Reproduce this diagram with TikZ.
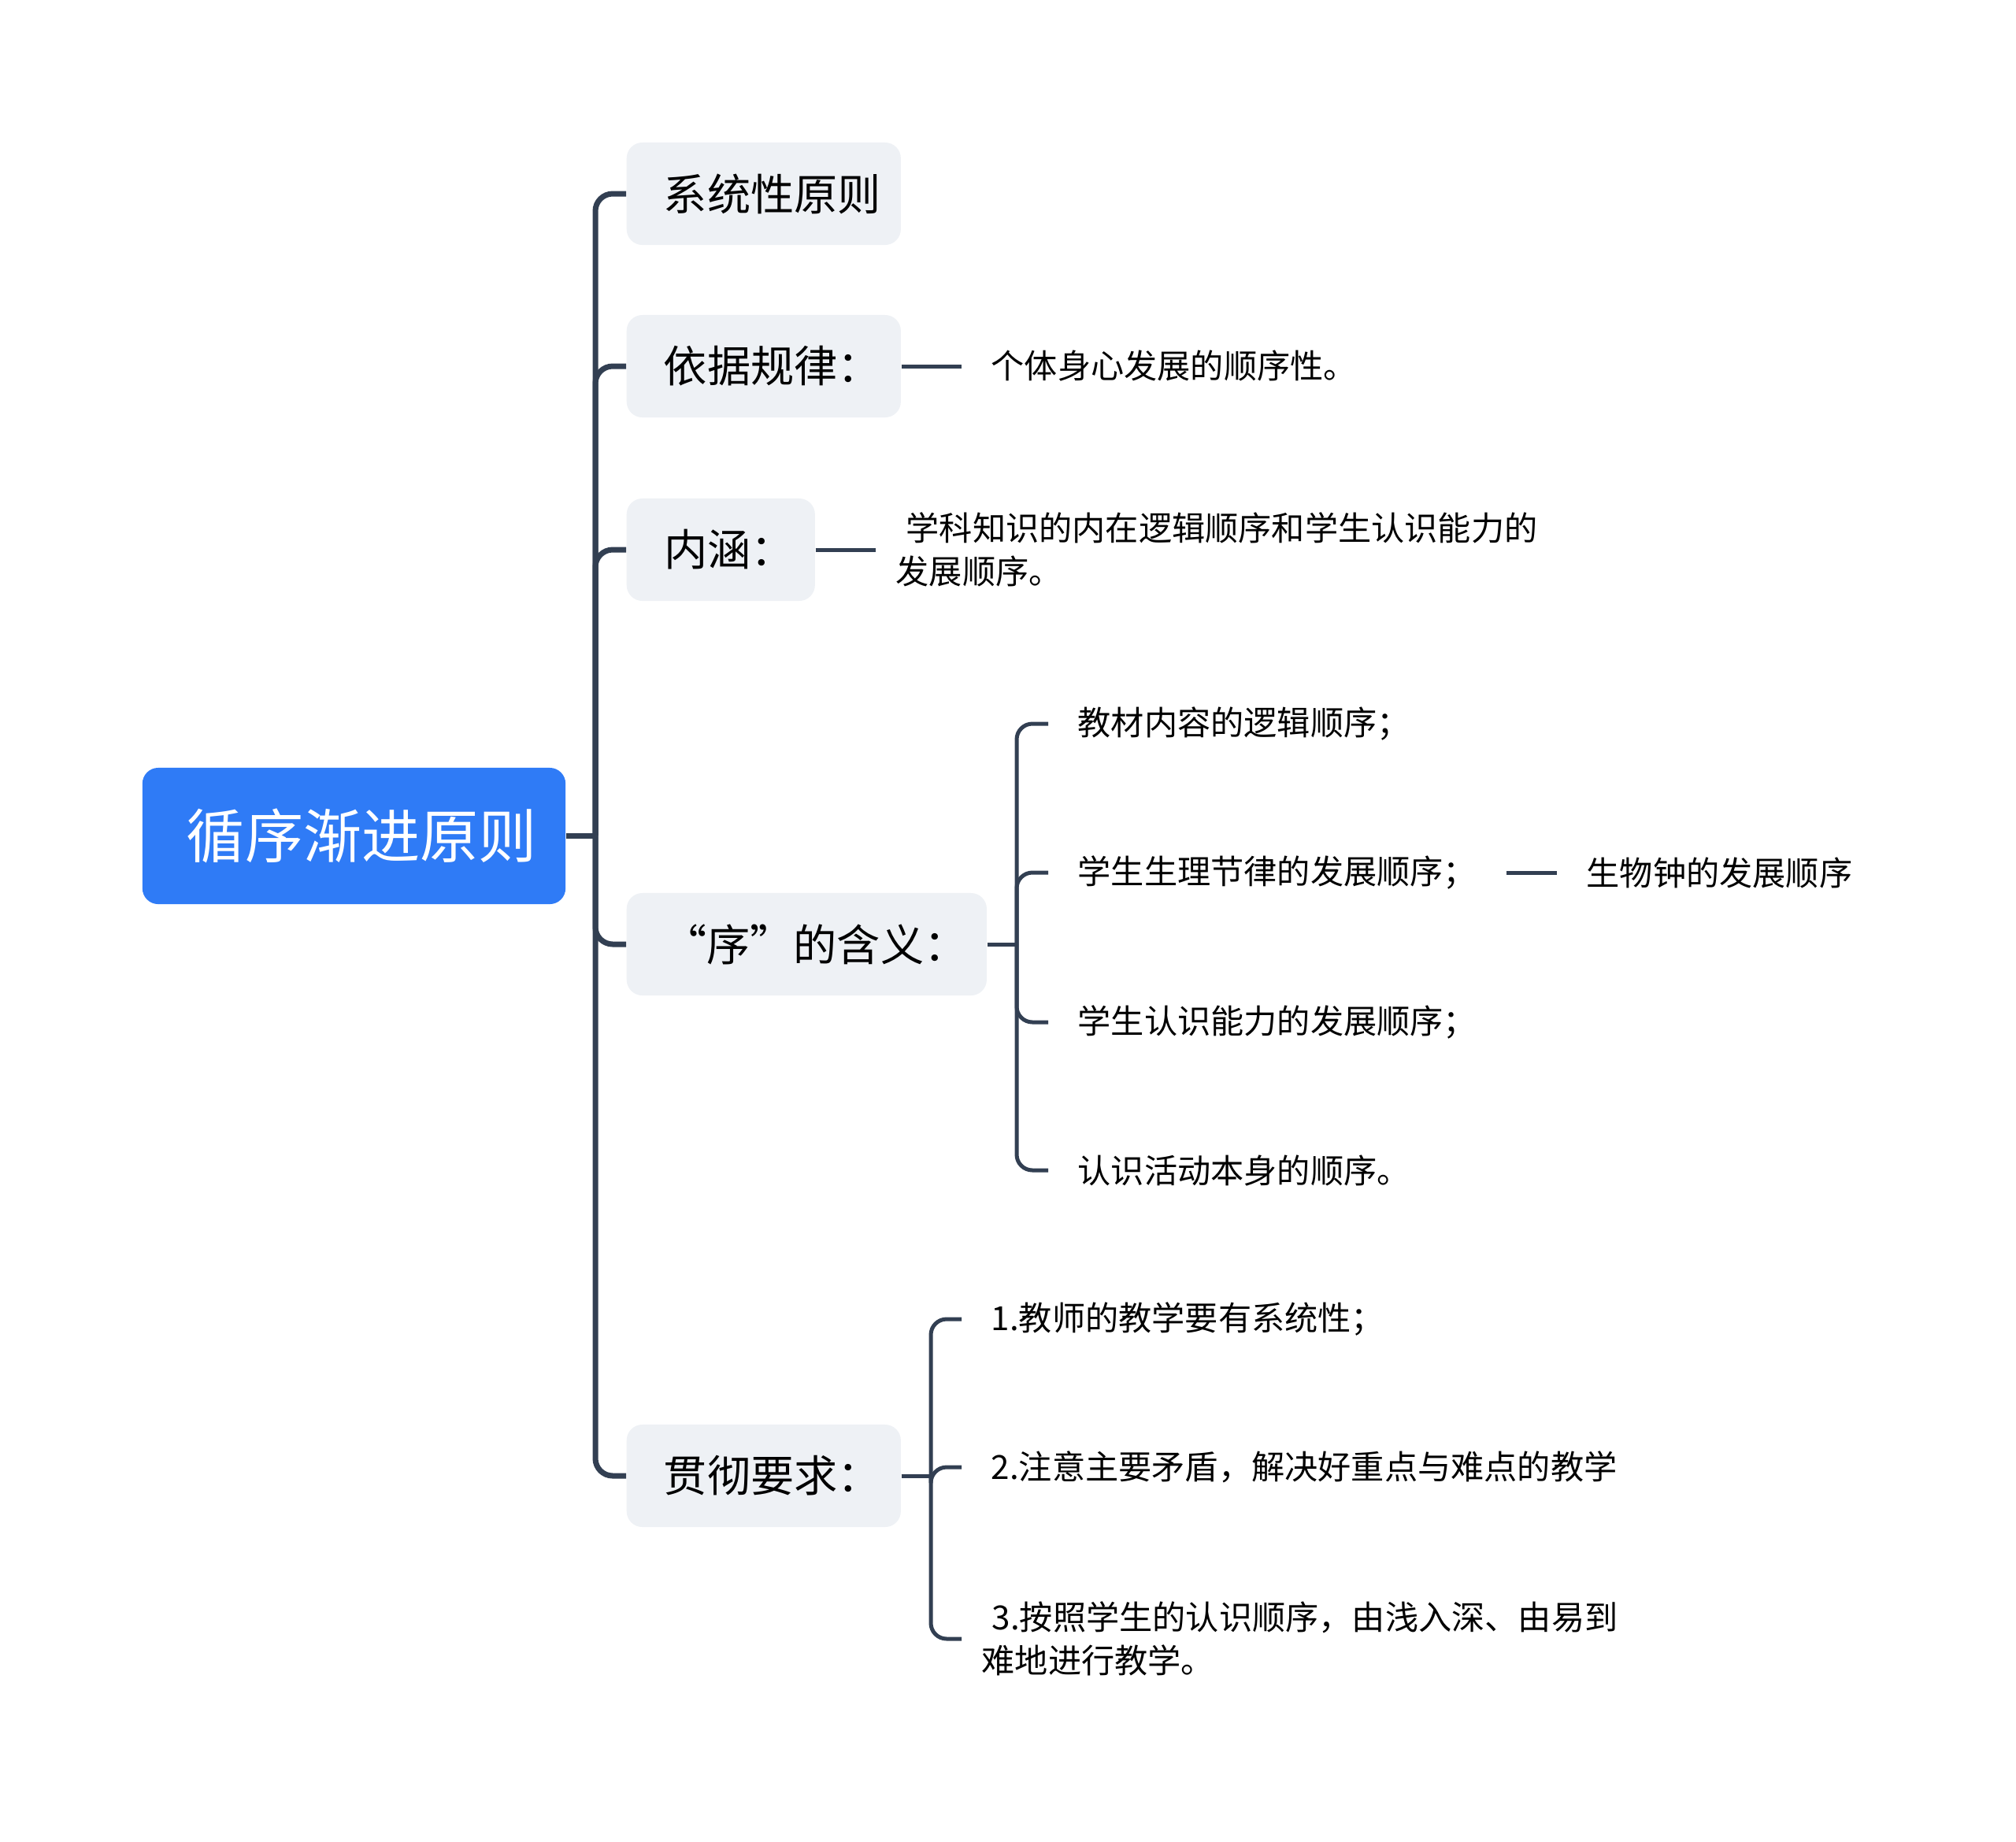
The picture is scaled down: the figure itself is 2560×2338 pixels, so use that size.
\documentclass[tikz,border=0pt]{standalone}
\usepackage{fontspec}
\newfontfamily\cjk{Noto Sans CJK SC}
\definecolor{rootblue}{HTML}{2F7BF6}
\definecolor{linedark}{HTML}{323F52}
\definecolor{boxgray}{HTML}{EEF1F5}
\tikzset{
  rootbox/.style={fill=rootblue, rounded corners=0.2cm, minimum width=5.37cm, minimum height=1.73cm,
    text=white, font=\cjk\fontsize{21.1}{24}\selectfont, execute at begin node={\hspace*{0.2cm}}},
  topicbox/.style={fill=boxgray, rounded corners=0.2cm, minimum height=1.3cm, anchor=west,
    font=\cjk\fontsize{15.7}{19}\selectfont, execute at begin node={\hspace*{0.22cm}}},
  leaf/.style={anchor=west, inner xsep=0.37cm, inner ysep=0pt, align=left,
    font=\cjk\fontsize{12}{15.8}\selectfont},
  leafwrap/.style={leaf, inner xsep=0.25cm},
  trunk/.style={draw=linedark, line width=0.07cm, rounded corners=0.22cm},
  twig/.style={draw=linedark, line width=0.05cm, rounded corners=0.2cm},
}
\def\lead{\hspace*{0.13cm}}

\begin{document}
\begin{tikzpicture}[x=0.01cm, y=-0.01cm]
	\useasboundingbox (0,0) rectangle (2560,2338);
	
	%%%%% root and main topics %%%%%
	\node[rootbox] (root) at (449.5,1061.5) {循序渐进原则};
	
	\node[topicbox, minimum width=3.48cm] (xitong) at (795,246) {系统性原则};
	\node[topicbox, minimum width=3.48cm] (yiju) at (795,465) {依据规律：};
	\node[topicbox, minimum width=2.39cm] (neihan) at (795,698) {内涵：};
	\node[topicbox, minimum width=4.57cm] (xu) at (795,1199) {“序”的含义：};
	\node[topicbox, minimum width=3.48cm] (guanche) at (795,1874) {贯彻要求：};
	
	\coordinate (j0) at (756,1061.5);
	\draw[trunk] (root.east) -- (j0);
	\foreach \t in {xitong,yiju,neihan,xu,guanche}
		\draw[trunk] (j0) |- (\t.west);
	
	%%%%% 依据规律 / 内涵 %%%%%
	\node[leaf] (geti) at (1221,465) {个体身心发展的顺序性。};
	\draw[twig] (yiju.east) -- (geti.west);
	
	\node[leafwrap] (zhishi) at (1112,698) {\lead 学科知识的内在逻辑顺序和学生认识能力的\\发展顺序。};
	\draw[twig] (neihan.east) -- (zhishi.west);
	
	%%%%% 序的含义 %%%%%
	\coordinate (j1) at (1291,1199);
	\draw[twig] (xu.east) -- (j1);
	\node[leaf] (jiaocai) at (1331,919) {教材内容的逻辑顺序；};
	\node[leaf] (shengli) at (1331,1108) {学生生理节律的发展顺序；};
	\node[leaf] (renshi) at (1331,1298) {学生认识能力的发展顺序；};
	\node[leaf] (huodong) at (1331,1486) {认识活动本身的顺序。};
	\foreach \t in {jiaocai,shengli,renshi,huodong}
		\draw[twig] (j1) |- (\t.west);
	
	\node[leaf] (shengwu) at (1977,1108) {生物钟的发展顺序};
	\draw[twig] (shengli.east) -- (shengwu.west);
	
	%%%%% 贯彻要求 %%%%%
	\coordinate (j2) at (1182,1874);
	\draw[twig] (guanche.east) -- (j2);
	\node[leaf] (yao1) at (1221,1675) {1.教师的教学要有系统性；};
	\node[leaf] (yao2) at (1221,1863) {2.注意主要矛盾，解决好重点与难点的教学};
	\node[leafwrap] (yao3) at (1221,2081) {\lead 3.按照学生的认识顺序，由浅入深、由易到\\难地进行教学。};
	\foreach \t in {yao1,yao2,yao3}
		\draw[twig] (j2) |- (\t.west);
	
\end{tikzpicture}
\end{document}
